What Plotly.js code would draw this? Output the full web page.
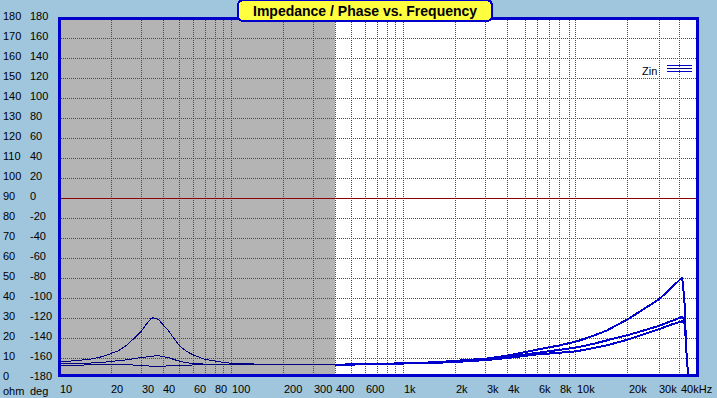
<!DOCTYPE html>
<html>
<head>
<meta charset="utf-8">
<script src="https://cdn.plot.ly/plotly-3.0.1.min.js"></script>
<style>
html,body{margin:0;padding:0;background:#a0c6de;}
#chart{width:717px;height:398px;}
#chart svg path{shape-rendering:crispEdges;}
</style>
</head>
<body>
<div id="chart"></div>
<script>
// ---- data ----
const freq = [10,12,15,18,20,22,25,28,30,32,34,35,36,38,40,43,46,50,55,60,70,80,90,100,150,200,300,400,600,800,1000,1500,2000,3000,4000,5000,6000,8000,10000,12500,15000,20000,25000,30000,35000,41000,42000,42600,43100,43900,44500];
const zinA = [8.2,8.7,9.6,11.0,12.3,13.8,17.0,21.0,23.6,27.0,29.8,30.3,30.2,29.2,27.0,24.0,20.5,16.3,13.5,11.8,9.6,8.6,8.0,7.6,7.0,6.8,6.8,6.9,7.1,7.3,7.6,8.1,8.7,9.9,11.5,13.0,14.5,16.6,18.5,21.3,24.0,29.8,35.0,39.5,44.8,50.5,42,34,17.5,9,0];
const zinB = [7.3,7.4,7.7,8.1,8.4,8.8,9.4,10.1,10.5,10.9,11.2,11.3,11.3,11.3,11.1,10.5,9.6,8.6,7.9,7.5,7.2,7.0,6.9,6.9,6.8,6.7,6.8,6.9,7.1,7.3,7.5,7.9,8.5,9.5,10.8,12.0,13.1,14.3,15.5,17.3,19.0,21.8,24.2,26.3,28.5,30.8,30,28,17.5,9,0];
const zinC = [6.6,6.7,6.9,7.1,7.2,7.2,7.0,6.6,6.4,6.2,6.1,6.1,6.1,6.1,6.2,6.3,6.5,6.7,6.9,7.0,7.0,6.9,6.9,6.8,6.7,6.6,6.7,6.8,7.0,7.2,7.4,7.8,8.3,9.2,10.3,11.3,12.1,12.9,13.6,15.2,16.6,19.5,22.2,24.6,26.8,28.6,28,27,17.5,9,0];

const xLabelVals = [10,20,30,40,60,80,100,200,300,400,600,1000,2000,3000,4000,6000,8000,10000,20000,30000,40000];
const xLabelText = ['10','20','30','40','60','80','100','200','300','400','600','1k','2k','3k','4k','6k','8k','10k','20k','30k','40kHz'];
const ohmTicks = [0,10,20,30,40,50,60,70,80,90,100,110,120,130,140,150,160,170,180];
const degTicks = [-180,-160,-140,-120,-100,-80,-60,-40,-20,0,20,40,60,80,100,120,140,160,180];
const title = 'Impedance / Phase vs. Frequency';
const legendName = 'Zin';
const shadeStart = 10, shadeEnd = 400; // gray shaded band

// ---- layout helpers ----
const W = 717, H = 398;
const L = 59, R = 20, T = 18, B = 21;
const plotW = W - L - R, plotH = H - T - B;
const XMIN = 10, XMAX = 50000;
const YMIN = 0.75, YMAX = 180.25;
const decades = Math.log10(XMAX) - Math.log10(XMIN);
const PX = x => (x - L) / plotW;
const PY = y => ((H - B) - y) / plotH;
const fToPx = f => L + (Math.log10(f / XMIN)) * plotW / decades;
const pxToF = px => XMIN * Math.pow(10, (px - L) * decades / plotW);
const NAVY = '#000080', BLUE = '#0000cc', GRID = '#008000';
const FONT = 'Liberation Sans, Arial, sans-serif';

// gridline positions: every 1..9 multiple per decade
const gridX = [];
for (let d = 10; d <= 10000; d *= 10) for (let m = 1; m <= 9; m++) { const v = d * m; if (v > 10 && v <= 40000) gridX.push(v); }
const gridY = [];
for (let v = 10; v <= 170; v += 10) if (v !== 90) gridY.push(v);

const traces = [];
// gray band
traces.push({x: [shadeStart, shadeEnd, shadeEnd, shadeStart], y: [YMIN, YMIN, YMAX, YMAX], type: 'scatter', mode: 'lines',
  fill: 'toself', fillcolor: '#b4b4b4', line: {width: 0, color: 'rgba(0,0,0,0)'}, hoverinfo: 'skip'});
// vertical dotted grid (snapped to odd pixel columns so every line shows the same dot phase)
const vgx = [], vgy = [];
gridX.forEach(f => {
  const col = 2 * Math.round((fToPx(f) - 1.5) / 2) + 1;
  const xf = pxToF(col + 0.5);
  vgx.push(xf, xf, null); vgy.push(YMIN, YMAX, null);
});
traces.push({x: vgx, y: vgy, type: 'scatter', mode: 'lines', line: {color: GRID, width: 1, dash: '1px,1px'}, hoverinfo: 'skip', connectgaps: false});
// horizontal dotted grid
const hgx = [], hgy = [];
gridY.forEach(v => { hgx.push(XMIN, XMAX, null); hgy.push(v, v, null); });
traces.push({x: hgx, y: hgy, type: 'scatter', mode: 'lines', line: {color: GRID, width: 1, dash: '1px,1px'}, hoverinfo: 'skip', connectgaps: false});
// 90 ohm / 0 deg reference line
traces.push({x: [XMIN, XMAX], y: [90, 90], type: 'scatter', mode: 'lines', line: {color: '#8b0000', width: 1}, hoverinfo: 'skip'});

// ---- Zin curves: navy inside shaded band, blue outside ----
[zinA, zinB, zinC].forEach(z => {
  const lo = {x: [], y: []}, hi = {x: [], y: []};
  freq.forEach((f, i) => {
    if (f <= shadeEnd) { lo.x.push(f); lo.y.push(z[i]); }
    if (f >= shadeEnd) { hi.x.push(f); hi.y.push(z[i]); }
  });
  traces.push({x: lo.x, y: lo.y, type: 'scatter', mode: 'lines', line: {color: NAVY, width: 1}, hoverinfo: 'skip'});
  traces.push({x: hi.x, y: hi.y, type: 'scatter', mode: 'lines', line: {color: BLUE, width: 2}, hoverinfo: 'skip'});
});

// ---- annotations ----
const txt = (x, y, text, anchor, size) => ({xref: 'paper', yref: 'paper', x: x, y: y, xanchor: anchor || 'left', yanchor: 'middle',
  text: text, showarrow: false, borderpad: 0, borderwidth: 0, font: {family: FONT, size: size || 11, color: '#000'}});
const ann = [];
xLabelVals.forEach((v, i) => ann.push(txt(PX(Math.floor(fToPx(v)) + 1), PY(389.5), xLabelText[i])));
ohmTicks.forEach((v, i) => {
  const py = 378.5 - 2 * v - 2.5;
  ann.push(txt(PX(3), PY(py), String(v)));
  ann.push(txt(PX(30), PY(py), String(degTicks[i])));
});
ann.push(txt(PX(3), PY(390.5), 'ohm'));
ann.push(txt(PX(30), PY(390.5), 'deg'));
ann.push(txt(PX(642), PY(71), legendName));
ann.push(txt(PX(365), PY(10.5), '<b>' + title + '</b>', 'center', 14));

// ---- shapes (frame, title box, legend sample) ----
const bx0 = PX(238), bx1 = PX(492), by0 = PY(21), by1 = PY(0);
const rx = 6 / plotW, ry = 6 / plotH;
const boxPath = `M ${bx0+rx},${by1} L ${bx1-rx},${by1} Q ${bx1},${by1} ${bx1},${by1-ry} L ${bx1},${by0+ry} Q ${bx1},${by0} ${bx1-rx},${by0} L ${bx0+rx},${by0} Q ${bx0},${by0} ${bx0},${by0+ry} L ${bx0},${by1-ry} Q ${bx0},${by1} ${bx0+rx},${by1} Z`;
const shapes = [
  {type: 'rect', xref: 'paper', yref: 'paper', x0: PX(59.5), x1: PX(697), y0: PY(375.5), y1: PY(18), line: {color: BLUE, width: 3}, fillcolor: 'rgba(0,0,0,0)', layer: 'above'},
  {type: 'path', xref: 'paper', yref: 'paper', path: boxPath, fillcolor: '#ffff40', line: {color: BLUE, width: 2}, layer: 'above'},
  {type: 'line', xref: 'paper', yref: 'paper', x0: PX(667), x1: PX(692), y0: PY(65.5), y1: PY(65.5), line: {color: BLUE, width: 1}},
  {type: 'line', xref: 'paper', yref: 'paper', x0: PX(667), x1: PX(692), y0: PY(68.5), y1: PY(68.5), line: {color: NAVY, width: 1}},
  {type: 'line', xref: 'paper', yref: 'paper', x0: PX(667), x1: PX(692), y0: PY(71.5), y1: PY(71.5), line: {color: BLUE, width: 1}}
];

const layout = {
  width: W, height: H,
  margin: {l: L, r: R, t: T, b: B, pad: 0},
  paper_bgcolor: '#a0c6de', plot_bgcolor: '#ffffff',
  showlegend: false,
  xaxis: {type: 'log', range: [Math.log10(XMIN), Math.log10(XMAX)], showticklabels: false, ticks: '', showgrid: false, zeroline: false, showline: false, fixedrange: true},
  yaxis: {range: [YMIN, YMAX], showticklabels: false, ticks: '', showgrid: false, zeroline: false, showline: false, fixedrange: true},
  shapes: shapes,
  annotations: ann
};

Plotly.newPlot('chart', traces, layout, {staticPlot: true, displayModeBar: false});
</script>
</body>
</html>
